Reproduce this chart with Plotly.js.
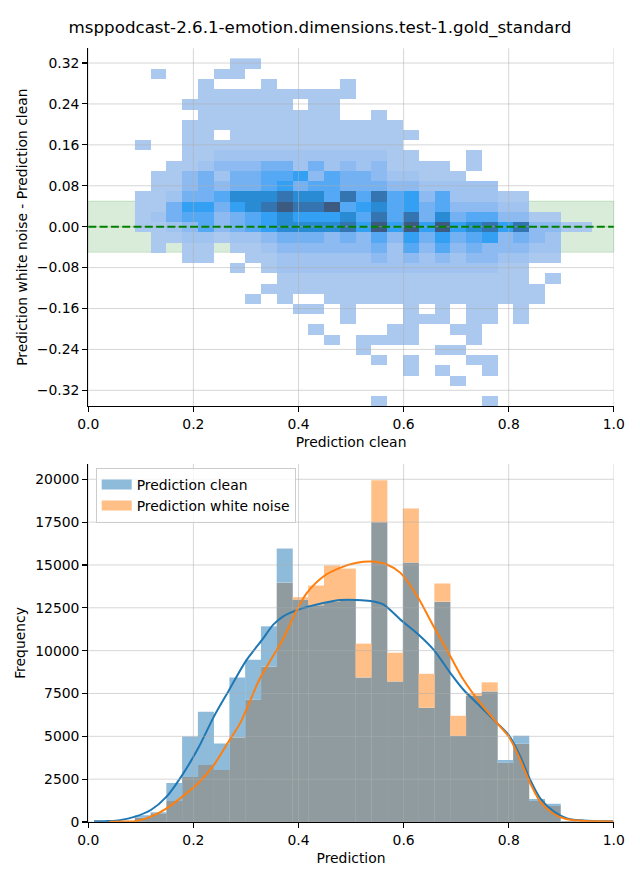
<!DOCTYPE html>
<html><head><meta charset="utf-8">
<script src="https://cdn.plot.ly/plotly-3.0.1.min.js"></script>
<style>html,body{margin:0;padding:0;background:#fff}#chart{width:640px;height:880px}</style>
</head><body><div id="chart"></div>
<script>
const chartTitle = "msppodcast-2.6.1-emotion.dimensions.test-1.gold_standard";

// ---- shared bins (x) ----
const binXStart = 0.0888;
const binXSize = 0.0300;
// ---- 2D histogram y bins ----
const binYStart = -0.3509;
const binYSize = 0.0200;

// colour level of each 2D cell ('.' = empty, 1 = lightest .. 9 = darkest)
// first string = top row (row 33), last string = bottom row (row 0), 30 columns each
const densityRows = [
  "......11......................",
  ".1...11.......................",
  "....1...1....1................",
  "....1111111111................",
  "...1111111.11.................",
  "....111111111..1..............",
  "...11111111111111.............",
  "...11.111111111111............",
  "1..11111111111111.............",
  "...112222222222211...1........",
  "..112333442423231111.1........",
  ".11342445563544322111.........",
  ".1134344564554443322222.......",
  "1124457778775858563522211.....",
  "1146646789889567564533322.....",
  "124553456766675858474553311...",
  "11235345677778696969678683311.",
  ".11221223444343536464563432...",
  ".1.11.112333333425353433322...",
  "...11..11222222323232332211...",
  "......1.12222222222222211.....",
  ".........1111111111111111.1...",
  "........111111111111111111....",
  ".......1.1..11111111111111....",
  "..........11.1...1.1.11.1.....",
  ".............1...111.11.1.....",
  "...........1....11..11........",
  "............1.1111...1........",
  "..............1....11.........",
  "...............1.1...11.......",
  ".................1.1..1.......",
  "....................1.........",
  "..............................",
  "...............1......1......."
];

// ---- 1D histograms (counts per x bin) ----
const countsClean = [390, 570, 2280, 4990, 6430, 4580, 8440, 9470, 11420, 15960, 12980, 12650, 12840, 12980, 8440, 17500, 8200, 15140, 6670, 12860, 5030, 7370, 7620, 3620, 5030, 1345, 1070, 60, 25, 10];
const countsNoise = [250, 510, 1230, 2630, 3330, 3040, 4930, 7130, 9080, 13970, 13120, 13800, 14970, 14790, 10410, 19940, 9880, 18300, 8650, 13920, 6200, 7520, 8150, 3450, 4560, 1230, 935, 50, 20, 10];

// ---- KDE curves ----
const kdeCleanX = [0.011, 0.04, 0.06, 0.089, 0.119, 0.149, 0.179, 0.209, 0.239, 0.267, 0.300, 0.331, 0.352, 0.371, 0.400, 0.435, 0.479, 0.511, 0.537, 0.562, 0.594, 0.626, 0.657, 0.689, 0.714, 0.746, 0.778, 0.802, 0.822, 0.841, 0.860, 0.886, 0.911, 0.937, 0.970, 0.999];
const kdeCleanY = [40, 60, 110, 312, 700, 1480, 2750, 4300, 6150, 7650, 9400, 10640, 11520, 12006, 12396, 12688, 12950, 12960, 12900, 12690, 11811, 11000, 10057, 8693, 7718, 6744, 5769, 4989, 3820, 2456, 1384, 604, 214, 97, 50, 40];
const kdeNoiseX = [0.04, 0.06, 0.089, 0.119, 0.149, 0.179, 0.209, 0.239, 0.267, 0.289, 0.327, 0.371, 0.397, 0.416, 0.448, 0.479, 0.511, 0.537, 0.568, 0.594, 0.626, 0.657, 0.689, 0.714, 0.746, 0.778, 0.802, 0.822, 0.841, 0.860, 0.886, 0.911, 0.937, 0.970, 0.999];
const kdeNoiseY = [20, 30, 50, 312, 800, 1480, 2260, 3330, 4700, 5770, 8400, 10700, 12396, 13370, 14345, 14832, 15124, 15202, 15027, 14540, 13175, 11421, 9667, 8303, 6938, 5769, 4892, 3625, 2261, 1189, 468, 156, 78, 40, 30];

// ---- ticks ----
const xTicks = [0, 0.2, 0.4, 0.6, 0.8, 1.0];
const xTickText = ["0.0", "0.2", "0.4", "0.6", "0.8", "1.0"];
const topYTicks = [-0.32, -0.24, -0.16, -0.08, 0, 0.08, 0.16, 0.24, 0.32];
const topYTickText = ["\u22120.32", "\u22120.24", "\u22120.16", "\u22120.08", "0.00", "0.08", "0.16", "0.24", "0.32"];
const botYTicks = [0, 2500, 5000, 7500, 10000, 12500, 15000, 17500, 20000];
const botYTickText = ["0", "2500", "5000", "7500", "10000", "12500", "15000", "17500", "20000"];
const bandHalfWidth = 0.05;

// ---------------------------------------------------------------
const FONT = "DejaVu Sans";
const levels = densityRows.slice().reverse().map(r => r.split('').map(c => c === '.' ? null : Number(c)));
const binCenters = countsClean.map((_, i) => binXStart + (i + 0.5) * binXSize);

// the two half-transparent histograms, composited: shared part, clean-only top, noise-only top
const CLEAN_ONLY = 'rgb(143,187,218)';   // #1f77b4 at 50% on white
const NOISE_ONLY = 'rgb(255,191,135)';   // #ff7f0e at 50% on white
const BOTH = 'rgb(143,155,158)';         // blue 50% over orange 50%
const sharedPart = countsClean.map((c, i) => Math.min(c, countsNoise[i]));
const cleanExtra = countsClean.map((c, i) => Math.max(c - countsNoise[i], 0));
const noiseExtra = countsNoise.map((n, i) => Math.max(n - countsClean[i], 0));
const barW = binXSize * 1.02;

const cellScale = [
  [0.000, '#abc8ee'],
  [0.125, '#a0c3ef'],
  [0.250, '#8dbaf0'],
  [0.375, '#74b1f2'],
  [0.500, '#55a8f4'],
  [0.625, '#33a0f3'],
  [0.750, '#2a8bd5'],
  [0.875, '#3474b0'],
  [1.000, '#3d5a80']
];

const traces = [
  {
    type: 'heatmap', xaxis: 'x', yaxis: 'y',
    z: levels, x0: binXStart + binXSize / 2, dx: binXSize,
    y0: binYStart + binYSize / 2, dy: binYSize,
    colorscale: cellScale, zmin: 1, zmax: 9, showscale: false,
    hoverinfo: 'skip', showlegend: false
  },
  {
    type: 'bar', xaxis: 'x2', yaxis: 'y2', x: binCenters, y: sharedPart,
    width: barW, marker: {color: BOTH, line: {width: 0}}, showlegend: false
  },
  {
    type: 'bar', xaxis: 'x2', yaxis: 'y2', x: binCenters, y: noiseExtra, base: countsClean,
    width: barW, marker: {color: NOISE_ONLY, line: {width: 0}}, showlegend: false
  },
  {
    type: 'bar', xaxis: 'x2', yaxis: 'y2', x: binCenters, y: cleanExtra, base: countsNoise,
    width: barW, marker: {color: CLEAN_ONLY, line: {width: 0}}, showlegend: false
  },
  {
    type: 'scatter', mode: 'lines', xaxis: 'x2', yaxis: 'y2', x: kdeCleanX, y: kdeCleanY,
    line: {color: '#1f77b4', width: 2, shape: 'spline', smoothing: 0.8}, showlegend: false
  },
  {
    type: 'scatter', mode: 'lines', xaxis: 'x2', yaxis: 'y2', x: kdeNoiseX, y: kdeNoiseY,
    line: {color: '#ff7f0e', width: 2, shape: 'spline', smoothing: 0.8}, showlegend: false
  },
  {
    type: 'scatter', mode: 'lines', xaxis: 'x2', yaxis: 'y2', x: [null], y: [null],
    line: {color: CLEAN_ONLY, width: 11}, name: 'Prediction clean', legendrank: 1
  },
  {
    type: 'scatter', mode: 'lines', xaxis: 'x2', yaxis: 'y2', x: [null], y: [null],
    line: {color: NOISE_ONLY, width: 11}, name: 'Prediction white noise', legendrank: 2
  }
];

const gridColor = 'rgba(176,176,176,0.5)';
const shapes = [];
shapes.push({type: 'rect', xref: 'x domain', yref: 'y', x0: 0, x1: 1, y0: -bandHalfWidth, y1: bandHalfWidth,
  fillcolor: 'rgba(0,128,0,0.15)', line: {color: 'rgba(0,128,0,0.15)', width: 1}, layer: 'below'});
function addGrid(xa, ya, xt, yt) {
  xt.forEach(v => shapes.push({type: 'line', xref: xa, yref: ya + ' domain', x0: v, x1: v, y0: 0, y1: 1,
    line: {color: gridColor, width: 1}, layer: 'above'}));
  yt.forEach(v => shapes.push({type: 'line', xref: xa + ' domain', yref: ya, x0: 0, x1: 1, y0: v, y1: v,
    line: {color: gridColor, width: 1}, layer: 'above'}));
}
addGrid('x', 'y', xTicks, topYTicks);
addGrid('x2', 'y2', xTicks, botYTicks);
shapes.push({type: 'line', xref: 'x domain', yref: 'y', x0: 0, x1: 1, y0: 0, y1: 0,
  line: {color: 'green', width: 2, dash: '8px,3.3px'}, layer: 'above'});

const tickFont = {family: FONT, size: 13.9, color: '#000'};
const titleFont = {family: FONT, size: 13.9, color: '#000'};
function axis(extra) {
  return Object.assign({
    showgrid: false, zeroline: false, showline: true, linecolor: '#000', linewidth: 1.1,
    ticks: 'outside', ticklen: 5, tickwidth: 1.1, tickcolor: '#000',
    tickfont: tickFont, automargin: false, fixedrange: true
  }, extra);
}

const xDom = [88.3 / 640, 613.8 / 640];
const layout = {
  width: 640, height: 880,
  margin: {l: 0, r: 0, t: 0, b: 0},
  paper_bgcolor: '#fff', plot_bgcolor: 'rgba(0,0,0,0)',
  font: {family: FONT, color: '#000'},
  title: {text: chartTitle, font: {family: FONT, size: 16.7, color: '#000'},
    x: 0.5, xanchor: 'center', y: 1 - 27 / 880, yanchor: 'middle', yref: 'container'},
  barmode: 'overlay',
  showlegend: true,
  legend: {x: 95.7 / 640, y: 1 - 468 / 880, xanchor: 'left', yanchor: 'top',
    bgcolor: 'rgba(255,255,255,0.8)', bordercolor: '#cccccc', borderwidth: 1,
    font: {family: FONT, size: 13.9, color: '#000'}},
  xaxis: axis({domain: xDom, anchor: 'y', range: [0, 1], tickvals: xTicks, ticktext: xTickText,
    title: {text: 'Prediction clean', font: titleFont, standoff: 6}}),
  yaxis: axis({domain: [1 - 406 / 880, 1 - 48.3 / 880], anchor: 'x', range: [-0.3506, 0.3488],
    tickvals: topYTicks, ticktext: topYTickText,
    title: {text: 'Prediction white noise - Prediction clean', font: titleFont, standoff: 6}}),
  xaxis2: axis({domain: xDom, anchor: 'y2', range: [0, 1], tickvals: xTicks, ticktext: xTickText,
    title: {text: 'Prediction', font: titleFont, standoff: 6}}),
  yaxis2: axis({domain: [1 - 822 / 880, 1 - 464 / 880], anchor: 'x2', range: [0, 20893],
    tickvals: botYTicks, ticktext: botYTickText,
    title: {text: 'Frequency', font: titleFont, standoff: 6}}),
  shapes: shapes
};

Plotly.newPlot('chart', traces, layout, {staticPlot: true, displayModeBar: false});
</script>
</body></html>
